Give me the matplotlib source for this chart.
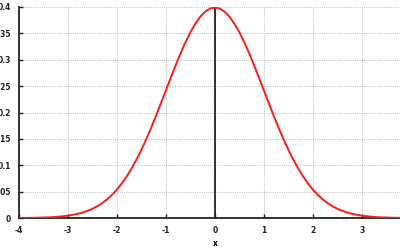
import numpy as np
import matplotlib.pyplot as plt

# density values, x from -4 to 4 in steps of 0.1
x_vals = [round(-4 + 0.1 * i, 1) for i in range(81)]
half = [0.0001, 0.0002, 0.0003, 0.0004, 0.0006, 0.0009, 0.0012, 0.0017, 0.0024, 0.0033,
        0.0044, 0.0060, 0.0079, 0.0104, 0.0136, 0.0175, 0.0224, 0.0283, 0.0355, 0.0440,
        0.0540, 0.0656, 0.0790, 0.0940, 0.1109, 0.1295, 0.1497, 0.1714, 0.1942, 0.2179,
        0.2420, 0.2661, 0.2897, 0.3123, 0.3332, 0.3521, 0.3683, 0.3814, 0.3910, 0.3970]
peak = [0.3989]
y_vals = half + peak + half[::-1]

x_ticks = [-4, -3, -2, -1, 0, 1, 2, 3]
y_ticks = [0, 0.05, 0.1, 0.15, 0.2, 0.25, 0.3, 0.35, 0.4]
y_labels = ['0', '0.05', '0.1', '0.15', '0.2', '0.25', '0.3', '0.35', '0.4']

fig = plt.figure(figsize=(4, 2.5), dpi=100)
ax = fig.add_axes([19/400, 32/250, 381/400, 211/250])

ax.plot(x_vals, y_vals, color='#ff1a1a', linewidth=1.4, zorder=3)
ax.axvline(0, color='#222222', linewidth=1.3, zorder=2)

ax.set_xlim(-4, 3.78)
ax.set_ylim(0, 0.4)
ax.set_xticks(x_ticks)
ax.set_xticklabels([str(t) for t in x_ticks], fontsize=5.5, fontweight='bold')
ax.set_yticks(y_ticks)
ax.set_yticklabels(y_labels, fontsize=5.5, fontweight='bold')
ax.tick_params(direction='in', length=3, width=1, colors='#222222', pad=6)
ax.grid(True, color='#c4c4c4', linestyle=(0, (1, 1)), linewidth=0.8)
ax.set_xlabel('x', fontsize=5.5, fontweight='bold')
ax.xaxis.set_label_coords(196/381, -0.1)

for s in ['top', 'right']:
    ax.spines[s].set_visible(False)
for s in ['left', 'bottom']:
    ax.spines[s].set_linewidth(1.3)
    ax.spines[s].set_color('#222222')

fig.savefig('out.png', dpi=100)
